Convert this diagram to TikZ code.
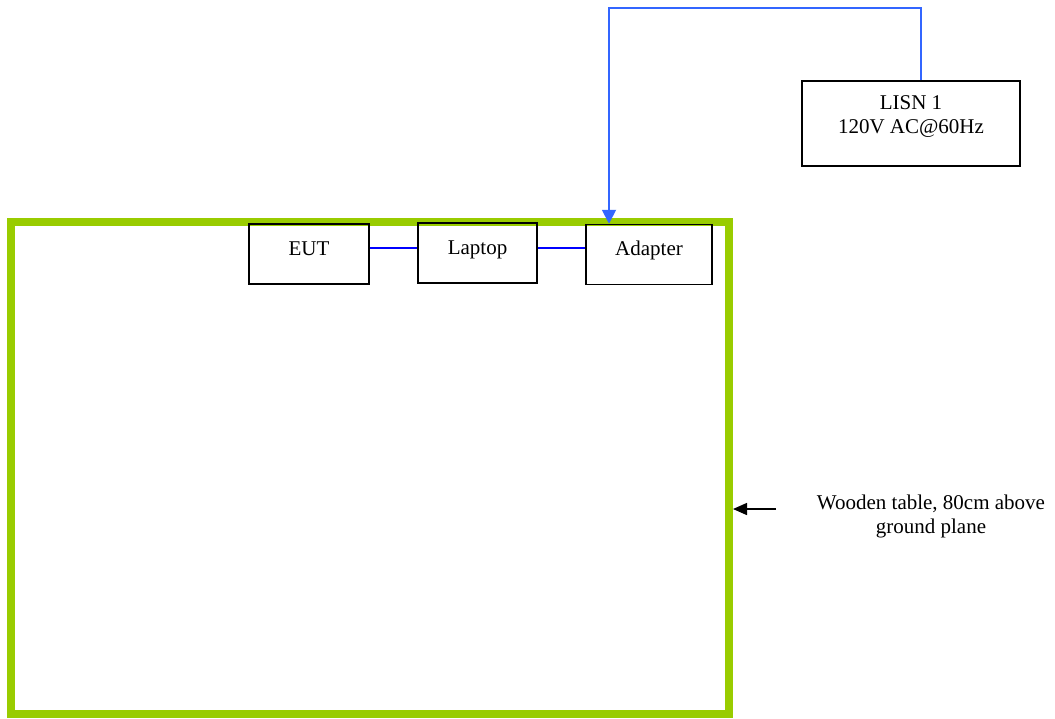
\documentclass[tikz,border=0pt]{standalone}
\usepackage{fontspec}
\setmainfont{Liberation Serif}
\usetikzlibrary{arrows.meta}
\definecolor{tablegreen}{HTML}{99CC00}
\definecolor{feedblue}{HTML}{3366FF}
\definecolor{linkblue}{HTML}{0000FF}
\begin{document}
\begin{tikzpicture}[x=1pt,y=-1pt,
  every node/.style={font=\fontsize{21}{24}\selectfont},
  unitbox/.style={draw=black,line width=1.5pt,minimum height=60pt,inner sep=0pt,text height=15pt,text depth=13pt},
  link/.style={draw=linkblue,line width=1.3pt},
  feed/.style={draw=feedblue,line width=1.8pt,-{Triangle[length=14pt,width=14pt]}},
  pointer/.style={draw=black,line width=1.5pt,-{Triangle[length=14pt,width=12pt]}}]
\useasboundingbox (0,0) rectangle (1055,718);
% wooden table
\node[draw=tablegreen,line width=8pt,minimum width=718pt,minimum height=492pt,inner sep=0pt] (table) at (370,468) {};
% units
\node[unitbox,minimum width=120pt] (eut) at (309,254) {EUT};
\node[unitbox,minimum width=119pt] (laptop) at (477.5,253) {Laptop};
\node[unitbox,minimum width=126pt] (adapter) at (649,254.5) {Adapter};
\draw[link] (eut.east |- 0,248) -- (laptop.west |- 0,248);
\draw[link] (laptop.east |- 0,248) -- (adapter.west |- 0,248);
% LISN
\node[draw=black,line width=1.5pt,minimum width=218pt,minimum height=85pt,inner sep=0pt] (lisn) at (911,123.5) {};
\node[align=center,anchor=north,inner sep=0pt] (lisntext) at (911,95) {LISN 1\\120V AC@60Hz};
\draw[feed] ([xshift=10pt]lisn.north) -- ++(0,-72) -| ([xshift=-40pt]adapter.north);
% table label
\coordinate (tabarrow) at (776,509);
\draw[pointer] (tabarrow) -- (tabarrow -| table.east);
\node[align=center,anchor=north,inner sep=0pt] (tablelabel) at (931,494.5) {Wooden table, 80cm above\\ground plane};
\end{tikzpicture}
\end{document}
